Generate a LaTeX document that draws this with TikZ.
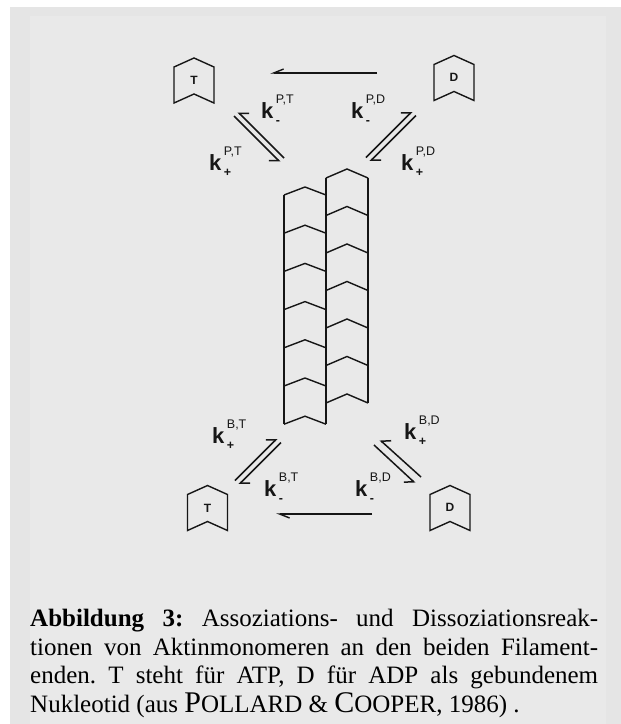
\documentclass[tikz,border=0pt]{standalone}
\usepackage{fontspec}
\setmainfont{Liberation Serif}
\newfontfamily\labelfont{Liberation Sans}
\usetikzlibrary{arrows.meta}
\frenchspacing

\definecolor{scangray}{RGB}{229,229,229}
\definecolor{figgray}{RGB}{233,233,233}
\definecolor{ink}{RGB}{22,22,22}

% rate constant: bold k, superscript on top, sign below
\newcommand{\krate}[2]{{\fontsize{22}{22}\selectfont\bfseries k}\kern2.5pt%
\rlap{\raisebox{15pt}{\fontsize{12.5}{12.5}\selectfont #2}}%
\raisebox{-6.5pt}{\fontsize{12.5}{12.5}\selectfont\bfseries #1}}

\tikzset {
    outline/.style={
        draw=ink,
        line width=1.4pt,
        line join=miter,
    },
    monomer/.pic={
        \draw[outline] (-20,18) -- (-20,-18) -- (0,-27) -- (20,-18) -- (20,18) -- (0,9) -- cycle;
    },
    letter/.style={
        font=\labelfont\bfseries\fontsize{12}{12}\selectfont,
        text=ink,
        inner sep=0pt,
    },
    rate/.style={
        font=\labelfont,
        text=ink,
        inner sep=0pt,
        anchor=base west,
    },
    eq/.style={
        draw=ink,
        line width=1.5pt,
        -{Straight Barb[harpoon, length=7pt, width=14pt]},
    },
    eq swap/.style={
        draw=ink,
        line width=1.5pt,
        -{Straight Barb[harpoon, swap, length=7pt, width=14pt]},
    },
    exchange/.style={
        draw=ink,
        line width=1.4pt,
        -{Straight Barb[harpoon, length=10pt, width=8pt]},
    },
    exchange swap/.style={
        draw=ink,
        line width=1.4pt,
        -{Straight Barb[harpoon, swap, length=10pt, width=8pt]},
    },
    caption/.style={
        anchor=north west,
        inner sep=0pt,
        text width=568pt,
        align=justify,
        font=\fontsize{25}{28.5}\selectfont,
    },
}

\begin{document}
\begin{tikzpicture}[x=1pt, y=-1pt]
\useasboundingbox (0,0) rectangle (621,724);
\fill[white] (0,0) rectangle (621,724);
\fill[scangray] (10,7) rectangle (621,724);
\fill[figgray] (30,16) rectangle (606,724);

% free monomers
\pic at (194,85) {monomer};
\node[letter] at (194,80) (Ttop) {T};
\pic at (454,82.5) {monomer};
\node[letter] at (454,77) (Dtop) {D};
\pic at (207.5,512.5) {monomer};
\node[letter] at (207.5,508) (Tbot) {T};
\pic at (450,512.5) {monomer};
\node[letter] at (450,507.5) (Dbot) {D};

% filament, two strands shifted by half a subunit
\draw[outline] (284,195) -- (284,424.2);
\draw[outline] (326,178) -- (326,424.2);
\draw[outline] (368,178) -- (368,403);
\foreach \i in {0,...,6} {
    \draw[outline] (284,195+38.2*\i) -- (305,187+38.2*\i) -- (326,195+38.2*\i);
    \draw[outline] (326,178+37.5*\i) -- (347,169+37.5*\i) -- (368,178+37.5*\i);
}

% end points of the reaction arrows
\coordinate (tl1) at (284,158);
\coordinate (tl2) at (238,112);
\coordinate (tl3) at (234,116);
\coordinate (tl4) at (280,162);
\coordinate (tr1) at (366,157.5);
\coordinate (tr2) at (412,111.5);
\coordinate (tr3) at (416,115.5);
\coordinate (tr4) at (370,161.5);
\coordinate (bl1) at (235,480.5);
\coordinate (bl2) at (277,438.5);
\coordinate (bl3) at (281,442.5);
\coordinate (bl4) at (239,484.5);
\coordinate (br1) at (421,477);
\coordinate (br2) at (380,440);
\coordinate (br3) at (374,445);
\coordinate (br4) at (415,483);
\coordinate (topR) at (377,73);
\coordinate (topL) at (270,73);
\coordinate (botR) at (372,514);
\coordinate (botL) at (276,514);

\draw[eq swap] (tl1) -- (tl2);
\draw[eq swap] (tl3) -- (tl4);
\draw[eq] (tr1) -- (tr2);
\draw[eq] (tr3) -- (tr4);
\draw[eq] (bl1) -- (bl2);
\draw[eq] (bl3) -- (bl4);
\draw[eq swap] (br1) -- (br2);
\draw[eq swap] (br3) -- (br4);
\draw[exchange swap] (topR) -- (topL);
\draw[exchange] (botR) -- (botL);

\node[rate] at (261,118) (kPTm) {\krate{-}{P,T}};
\node[rate] at (351,118) (kPDm) {\krate{-}{P,D}};
\node[rate] at (209,170) (kPTp) {\krate{+}{P,T}};
\node[rate] at (401,170) (kPDp) {\krate{+}{P,D}};
\node[rate] at (212,443) (kBTp) {\krate{+}{B,T}};
\node[rate] at (404,439) (kBDp) {\krate{+}{B,D}};
\node[rate] at (264,496) (kBTm) {\krate{-}{B,T}};
\node[rate] at (355,496) (kBDm) {\krate{-}{B,D}};

\node[caption] at (30,609) (capt) {\textbf{Abbildung 3:} Assoziations- und Dissoziationsreak-\linebreak
tionen von Aktinmonomeren an den beiden Filament-\linebreak
enden. T steht für ATP, D für ADP als gebundenem\linebreak
Nukleotid (aus {\fontsize{30}{28.5}\selectfont P}OLLARD \& {\fontsize{30}{28.5}\selectfont C}OOPER, 1986)~.};
\end{tikzpicture}
\end{document}
